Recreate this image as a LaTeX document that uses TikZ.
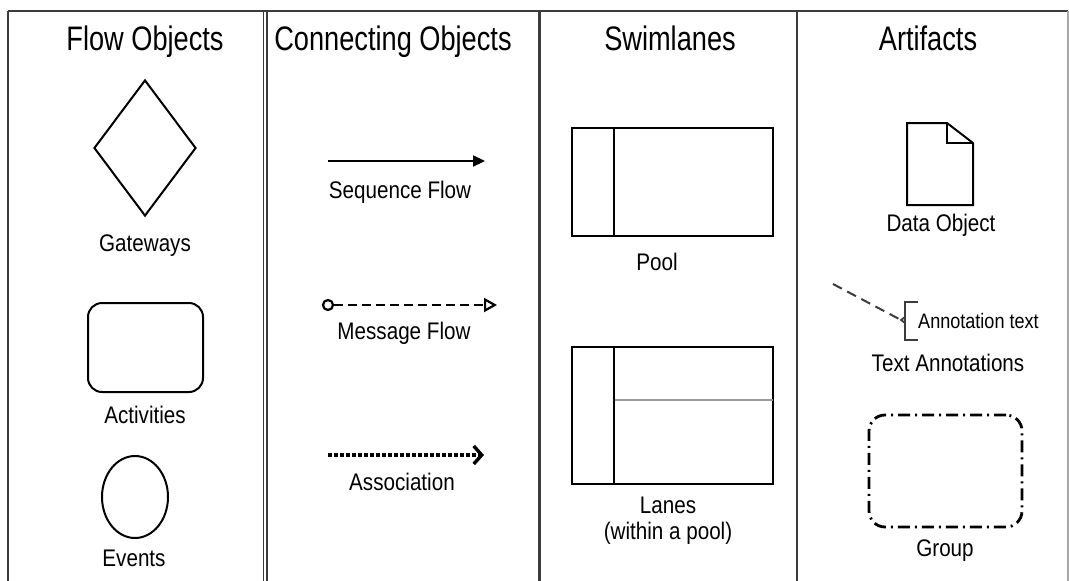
\documentclass[tikz,border=0pt]{standalone}
\usepackage{fontspec}
\setmainfont{Liberation Sans}
\newfontfamily\titlefont{Liberation Sans}[FakeStretch=0.8]
\newfontfamily\labfont{Liberation Sans}[FakeStretch=0.86]
\usetikzlibrary{arrows.meta,shapes.geometric}
\definecolor{framegray}{HTML}{3C3C3C}
\definecolor{edgegray}{HTML}{A8A8A8}
\definecolor{lanegray}{HTML}{9A9A9A}
\begin{document}
\begin{tikzpicture}[x=1pt,y=-1pt,
  title/.style={font=\titlefont\fontsize{34}{40}\selectfont, inner sep=0pt, anchor=base},
  lab/.style={font=\labfont\fontsize{24}{28}\selectfont, inner sep=0pt},
  smalllab/.style={font=\labfont\fontsize{21}{25}\selectfont, inner sep=0pt},
  shp/.style={draw=black, line width=2pt},
  frameline/.style={draw=framegray, line width=2.8pt},
  thinframe/.style={draw=framegray, line width=1.5pt}]
\useasboundingbox (0,0) rectangle (1069,581);
\fill[white] (0,0) rectangle (1069,581);

% frame
\draw[frameline] (8,11) -- (1068,11);
\draw[frameline] (8,11) -- (8,581);
\draw[thinframe] (263.5,11) -- (263.5,581);
\draw[thinframe] (267,11) -- (267,581);
\draw[draw=framegray, line width=3.8pt] (539.5,11) -- (539.5,581);
\draw[frameline] (797,11) -- (797,581);
\draw[draw=edgegray, line width=1.2pt] (1068,11) -- (1068,581);

% titles
\node[title] (t1) at (145,50) {Flow Objects};
\node[title] (t2) at (393,50) {Connecting Objects};
\node[title] (t3) at (670,50) {Swimlanes};
\node[title] (t4) at (928,50) {Artifacts};

% column 1: flow objects
\node[shp, diamond, aspect=0.74, minimum width=102pt, minimum height=136pt, inner sep=0pt] (gw) at (145,148) {};
\node[lab] (gwl) at (145,246) {Gateways};
\node[shp, rounded corners=14pt, minimum width=115pt, minimum height=89pt, inner sep=0pt] (act) at (145.5,347.5) {};
\node[lab] (actl) at (145,415) {Activities};
\node[shp, ellipse, minimum width=66pt, minimum height=82pt, inner sep=0pt] (ev) at (135,497) {};
\node[lab] (evl) at (134,558) {Events};

% column 2: connecting objects
\coordinate (sf1) at (328,161);
\coordinate (sf2) at (485,161);
\draw[line width=2.2pt, -{Triangle[length=12pt,width=11pt]}] (sf1) -- (sf2);
\node[lab] (sfl) at (400,192) {Sequence Flow};

\node[draw=black, line width=2.2pt, circle, minimum size=10pt, inner sep=0pt] (mfc) at (328,305) {};
\coordinate (mf2) at (497,305);
\draw[line width=2.6pt, dash pattern=on 9pt off 5pt, -{Triangle[open,length=13pt,width=14pt,line width=2.2pt]}] (mfc) -- (mf2);
\node[lab] (mfl) at (404,333) {Message Flow};

\coordinate (as1) at (328,455);
\coordinate (as2) at (484,455);
\draw[line width=3.4pt, dash pattern=on 4pt off 2pt, -{Straight Barb[length=8pt,width=18pt]}] (as1) -- (as2);
\node[lab] (asl) at (402,482) {Association};

% column 3: swimlanes
\node[shp, minimum width=201pt, minimum height=108pt, inner sep=0pt] (pool) at (672.5,182) {};
\draw[shp] ([xshift=43pt]pool.north west) -- ([xshift=43pt]pool.south west);
\node[lab] (pooll) at (657,262) {Pool};

\node[shp, minimum width=201pt, minimum height=137pt, inner sep=0pt] (lanes) at (672.5,415.5) {};
\coordinate (lnv1) at (614,347);
\coordinate (lnv2) at (614,484);
\coordinate (lnh1) at (614,400);
\coordinate (lnh2) at (773,400);
\draw[draw=lanegray, line width=1.6pt] (lnh1) -- (lnh2);
\draw[shp] (lnv1) -- (lnv2);
\node[lab] (lanesl) at (668,505) {Lanes};
\node[lab] (lanesl2) at (668,533) {(within a pool)};

% column 4: artifacts
\draw[shp, line join=miter] (907,123) -- (947,123) -- (973,143) -- (973,205) -- (907,205) -- cycle;
\draw[shp] (947,123) -- (947,143) -- (973,143);
\node[lab] (dol) at (941,225) {Data Object};

\coordinate (an1) at (833,284);
\coordinate (an2) at (901,320);
\draw[draw=framegray, line width=2pt, dash pattern=on 10pt off 6pt] (an1) -- (an2);
\draw[draw=framegray, line width=2.6pt] (918,302) -- (905,302) -- (905,340) -- (918,340);
\draw[draw=framegray, line width=1.8pt] (905,317) -- (901,320) -- (905,323);
\node[smalllab, anchor=west] (ant) at (918,321) {Annotation text};
\node[lab] (tal) at (948,363) {Text Annotations};

\node[draw=black, line width=2.8pt, rounded corners=16pt, dash pattern=on 12pt off 5pt on 2pt off 5pt, minimum width=153pt, minimum height=112pt, inner sep=0pt] (grp) at (945.5,471) {};
\node[lab] (grpl) at (945,551) {Group};
\end{tikzpicture}
\end{document}
